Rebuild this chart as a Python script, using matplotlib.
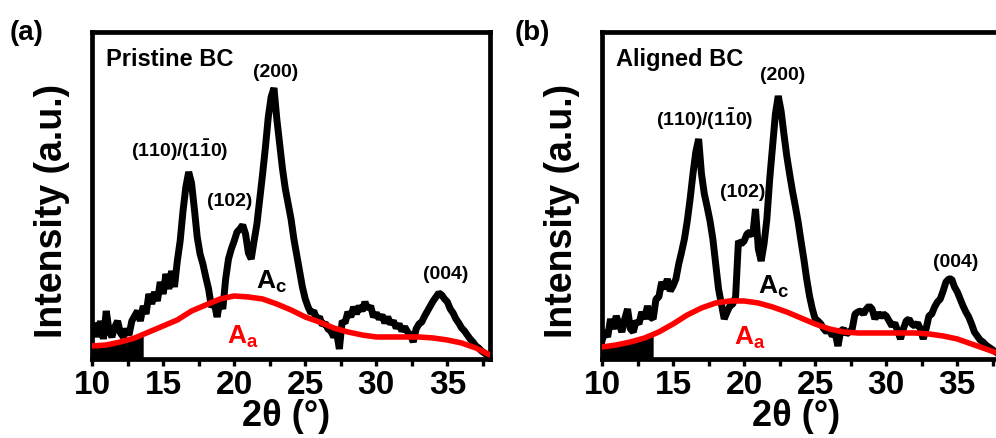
import numpy as np
import matplotlib
matplotlib.use("Agg")
import matplotlib.pyplot as plt
from matplotlib.ticker import MultipleLocator

plt.rcParams['font.family'] = ['Liberation Sans', 'DejaVu Sans']
plt.rcParams['font.weight'] = 'bold'
plt.rcParams['mathtext.fontset'] = 'custom'
plt.rcParams['mathtext.rm'] = 'Liberation Sans:bold'
plt.rcParams['mathtext.bf'] = 'Liberation Sans:bold'
plt.rcParams['mathtext.it'] = 'Liberation Sans:bold'

# XRD scans, 2theta from 10 to 38 deg in 0.2 deg steps (arbitrary intensity units)
scan_start, scan_stop, scan_step = 10.0, 38.0, 0.2

pristine_intensity = [
    25, 36, 22, 38, 20, 48, 28, 22, 32, 38,
    26, 22, 30, 24, 38, 43, 48, 38, 53, 45,
    65, 55, 67, 58, 77, 65, 85, 70, 88, 72,
    98, 118, 148, 172, 187, 176, 150, 122, 105, 95,
    82, 70, 52, 56, 42, 58, 50, 80, 100, 110,
    118, 127, 130, 134, 125, 106, 100, 118, 135, 160,
    185, 212, 242, 262, 271, 240, 215, 190, 170, 155,
    140, 120, 104, 88, 72, 60, 52, 46, 48, 40,
    42, 34, 36, 30, 28, 22, 27, 10, 38, 36,
    47, 42, 52, 45, 53, 48, 57, 50, 53, 42,
    46, 40, 44, 36, 42, 35, 38, 31, 35, 28,
    32, 27, 24, 17, 30, 35, 37, 43, 48, 53,
    58, 62, 66, 64, 60, 57, 50, 46, 40, 36,
    31, 28, 24, 20, 17, 13, 11, 8, 6, 4,
    2,
]

aligned_intensity = [
    18, 28, 22, 40, 30, 43, 35, 27, 40, 50,
    30, 27, 38, 35, 47, 40, 53, 42, 40, 60,
    62, 77, 70, 80, 68, 73, 80, 95, 107, 120,
    138, 160, 185, 207, 220, 185, 165, 152, 138, 120,
    95, 70, 55, 40, 47, 53, 55, 62, 118, 115,
    118, 125, 127, 123, 150, 110, 98, 115, 140, 180,
    212, 245, 263, 248, 225, 203, 185, 168, 153, 137,
    118, 100, 80, 63, 50, 40, 38, 35, 30, 27,
    30, 23, 26, 13, 28, 30, 25, 27, 30, 45,
    47, 48, 45, 50, 53, 50, 40, 46, 42, 45,
    43, 38, 33, 36, 28, 20, 30, 38, 40, 35,
    33, 36, 30, 20, 30, 43, 45, 52, 57, 60,
    68, 77, 80, 80, 72, 67, 60, 53, 47, 42,
    35, 27, 23, 19, 17, 14, 12, 10, 8, 6,
    4,
]

# Amorphous background fits, 1 deg steps from 10 to 38 deg
amorph_two_theta = list(range(10, 39))
pristine_amorph = [13, 14, 17, 21, 27, 33, 39, 48, 54, 60, 63, 62, 60, 55, 49,
                   42, 37, 31, 27, 24, 22, 22, 22, 22, 21, 19, 16, 11, 4]
aligned_amorph = [12, 14, 17, 21, 27, 35, 44, 51, 56, 58, 58, 56, 52, 47, 41,
                  35, 30, 27, 26, 26, 26, 26, 26, 25, 23, 20, 15, 10, 5]

# Below this angle the raw scan noise saturates down to the baseline
dense_noise_end = 13.7

panel_titles = ["Pristine BC", "Aligned BC"]
panel_letters = ["(a)", "(b)"]
plane_labels = ["(200)", r"(110)/(1$\bar{1}$0)", "(102)", "(004)"]
# label anchor positions (2theta, intensity) per panel
plane_label_pos = [
    [(22.9, 287), (16.2, 210), (19.7, 158), (34.85, 85)],
    [(22.7, 284), (17.2, 241), (19.9, 167), (34.85, 97)],
]
crystal_label_pos = [(22.6, 78), (22.1, 73)]
amorph_label_pos = [(20.6, 23), (20.4, 22)]

x_ticks = [10, 15, 20, 25, 30, 35]

fig = plt.figure(figsize=(9.96, 4.39), dpi=100)
axes_rects = [[0.0924, 0.18, 0.3996, 0.7449], [0.6044, 0.18, 0.3996, 0.7449]]
letter_x = [0.010, 0.517]

scans = [pristine_intensity, aligned_intensity]
amorphs = [pristine_amorph, aligned_amorph]

for i in range(2):
    ax = fig.add_axes(axes_rects[i])
    intensity = np.array(scans[i], dtype=float)
    two_theta = np.linspace(scan_start, scan_stop, len(intensity))
    am_x = np.array(amorph_two_theta, dtype=float)
    am_y = np.array(amorphs[i], dtype=float)

    # saturated noise block at low angle
    mask = two_theta <= dense_noise_end
    ax.fill_between(two_theta[mask], 0, np.interp(two_theta[mask], am_x, am_y),
                    color='black', lw=0, zorder=2)
    ax.plot(two_theta, intensity, color='black', lw=5.0, solid_joinstyle='bevel',
            zorder=3)
    ax.plot(am_x, am_y, color='#ff0000', lw=4.0, zorder=4,
            solid_capstyle='round')

    ax.set_xlim(10, 38)
    ax.set_ylim(0, 327)
    ax.set_xticks(x_ticks)
    ax.xaxis.set_minor_locator(MultipleLocator(2.5))
    ax.set_yticks([])
    ax.tick_params(axis='x', which='both', direction='out', length=5, width=2.4,
                   labelsize=24, pad=2)
    for lab in ax.get_xticklabels():
        lab.set_fontweight('bold')
    for sp in ax.spines.values():
        sp.set_linewidth(3.4)

    ax.text(0.488, -0.172, "2θ (°)", transform=ax.transAxes, ha='center',
            va='center', fontsize=26, fontweight='bold')
    ax.text(-0.1, 0.455, "Intensity (a.u.)", transform=ax.transAxes,
            rotation=90, ha='center', va='center', fontsize=27,
            fontweight='bold')

    ax.text(0.036, 0.92, panel_titles[i], transform=ax.transAxes, ha='left',
            va='center', fontsize=17, fontweight='bold')
    for lab, (px, py) in zip(plane_labels, plane_label_pos[i]):
        ax.text(px, py, lab, ha='center', va='center', fontsize=14,
                fontweight='bold')
    cx, cy = crystal_label_pos[i]
    ax.text(cx, cy, r"A$_\mathregular{c}$", ha='center', va='center',
            fontsize=19, fontweight='bold')
    axx, axy = amorph_label_pos[i]
    ax.text(axx, axy, r"A$_\mathregular{a}$", ha='center', va='center',
            fontsize=19, fontweight='bold', color='#ff0000')

    fig.text(letter_x[i], 0.925, panel_letters[i], ha='left', va='center',
             fontsize=20, fontweight='bold')

fig.savefig("out.png", dpi=100)
